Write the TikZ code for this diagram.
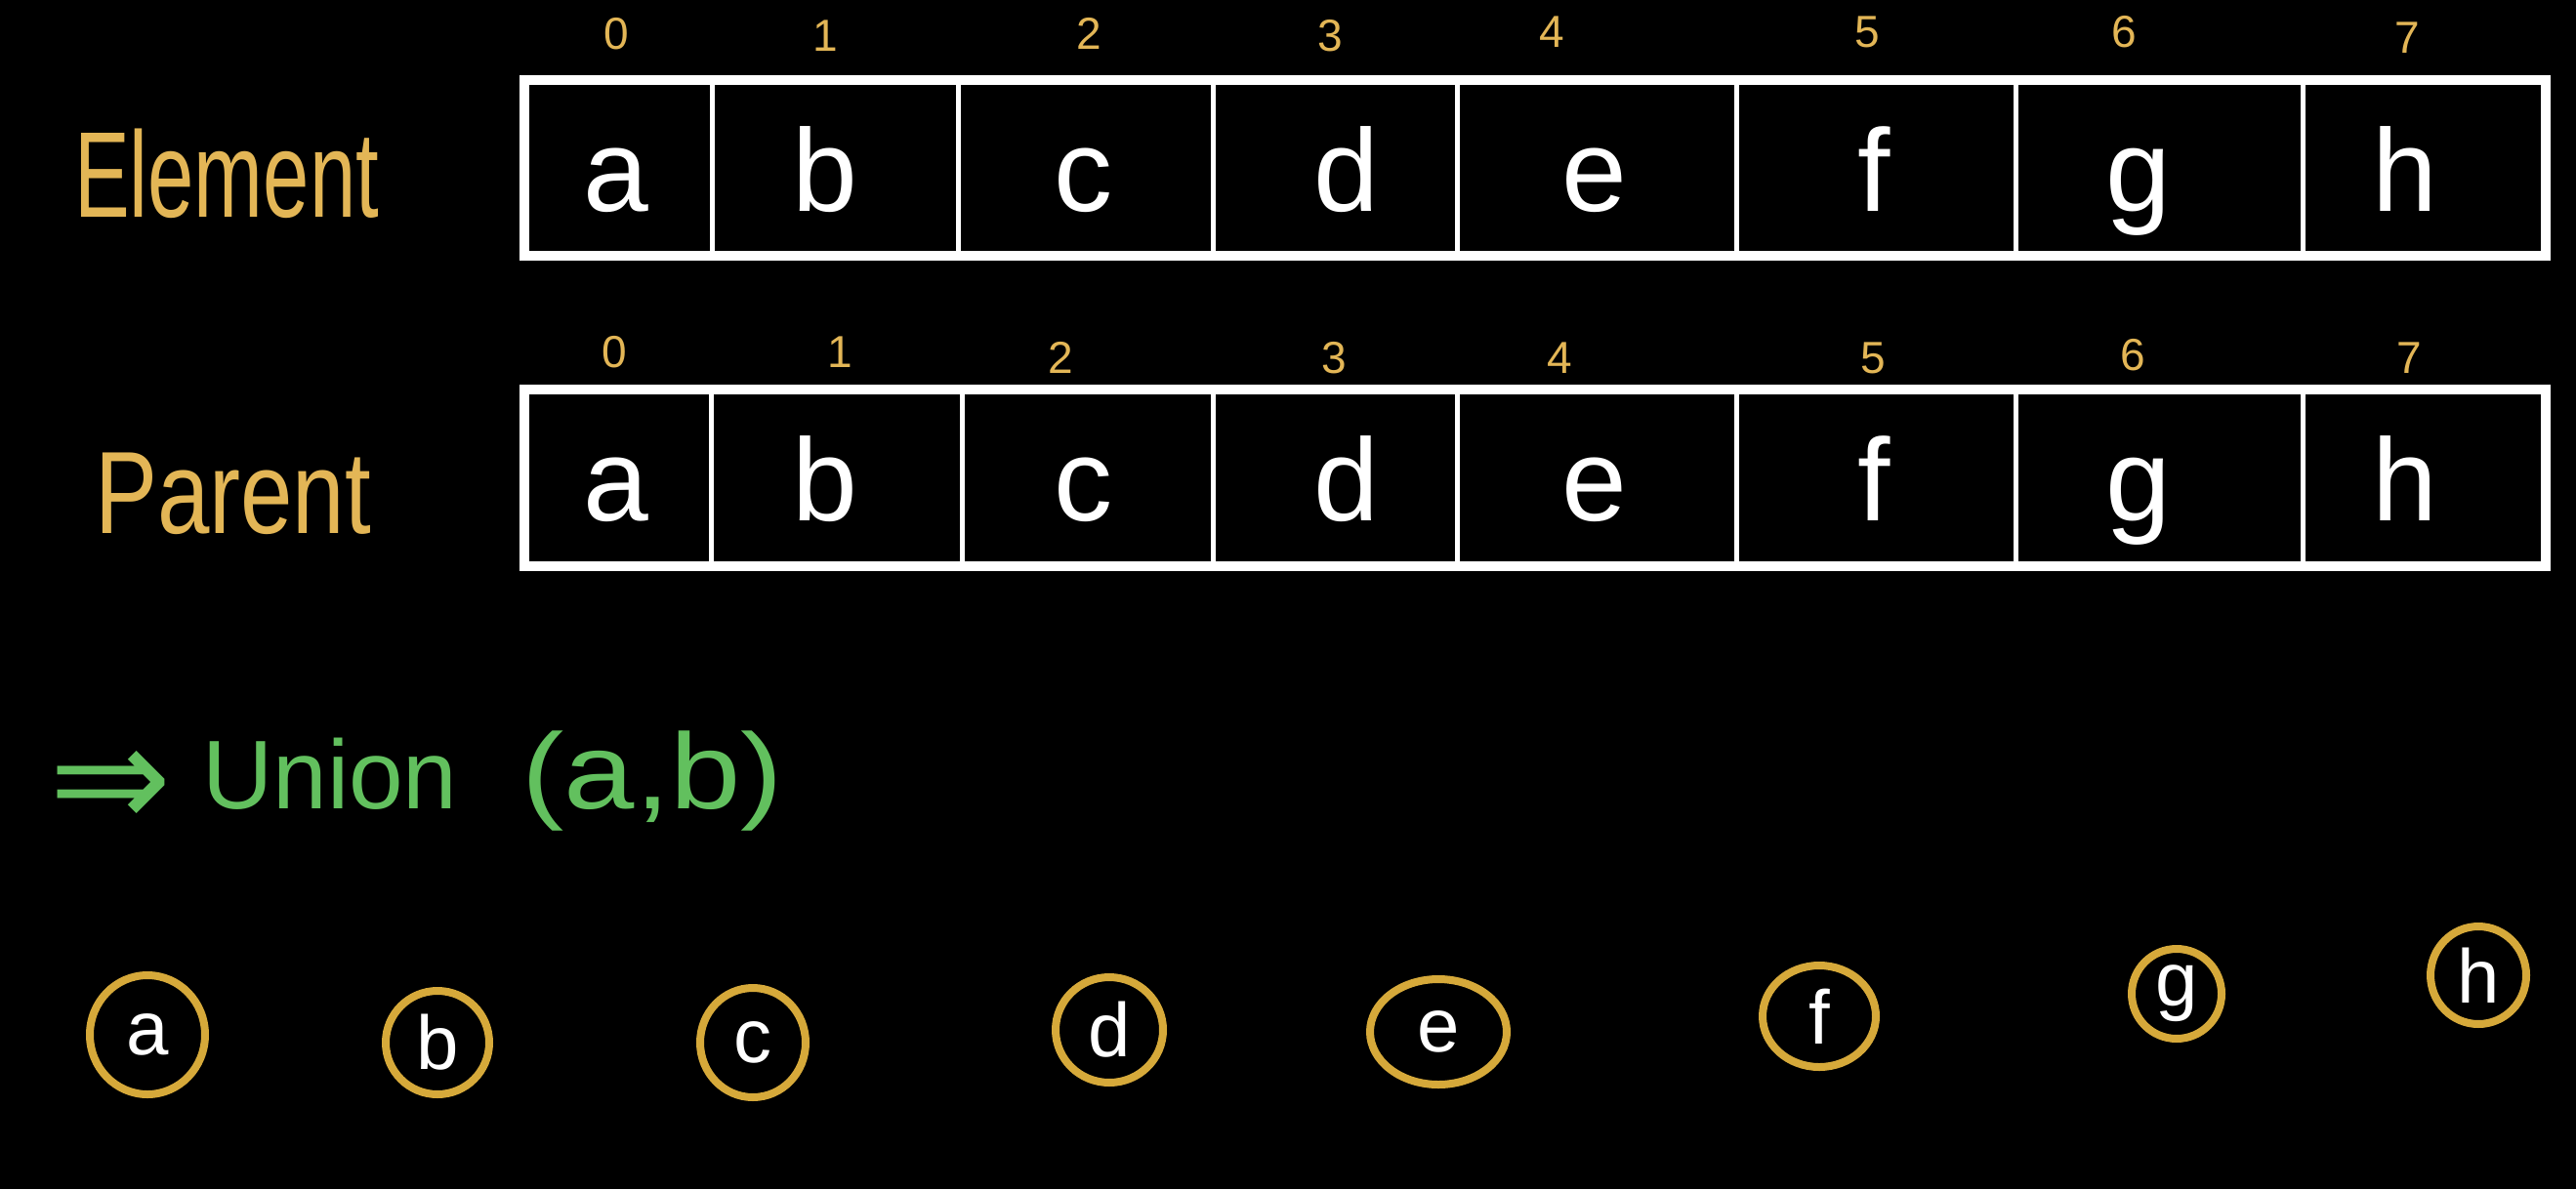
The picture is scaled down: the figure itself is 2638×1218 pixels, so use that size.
\documentclass[tikz,border=0pt]{standalone}
\usepackage{fontspec}
\setmainfont{Liberation Sans}
\newfontfamily\arrowfont{DejaVu Sans}
\usetikzlibrary{shapes.geometric}
\definecolor{labgold}{HTML}{E3B656}
\definecolor{circgold}{HTML}{D6A93A}
\definecolor{ugreen}{HTML}{62C05E}
\begin{document}
\begin{tikzpicture}[x=1pt,y=-1pt,
  cellletter/.style={text=white,font=\fontsize{120}{120}\selectfont,anchor=base,inner sep=0pt},
  idx/.style={text=labgold,font=\fontsize{46}{46}\selectfont,anchor=base,inner sep=0pt},
  frame/.style={draw=white,line width=10pt},
  divider/.style={draw=white,line width=5pt},
  setnode/.style={ellipse,draw=circgold,line width=8pt,inner sep=0pt,text=white,font=\fontsize{78}{78}\selectfont},
  rowlabel/.style={text=labgold,anchor=base west,inner sep=0pt},
  greentext/.style={text=ugreen,anchor=base west,inner sep=0pt}
]
\fill[black] (0,0) rectangle (2638,1218);
\useasboundingbox (0,0) rectangle (2638,1218);

% row labels
\node[rowlabel,font=\fontsize{125}{125}\selectfont,xscale=0.68] (elabel) at (76,222) {Element};
\node[rowlabel,font=\fontsize{120}{120}\selectfont,xscale=0.8] (plabel) at (97,546) {Parent};

% element array frame
\draw[frame] (537,82) rectangle (2607,262);
\foreach \x in {729,981,1242,1492,1778,2064,2358}{
  \draw[divider] (\x,82) -- (\x,262);
}
% parent array frame
\draw[frame] (537,399) rectangle (2607,580);
\foreach \x in {728,985,1242,1492,1778,2064,2358}{
  \draw[divider] (\x,399) -- (\x,580);
}

% element letters
\node[cellletter] (e0) at (631,216) {a};
\node[cellletter] (e1) at (845,216) {b};
\node[cellletter] (e2) at (1109,216) {c};
\node[cellletter] (e3) at (1379,216) {d};
\node[cellletter] (e4) at (1633,216) {e};
\node[cellletter] (e5) at (1919,216) {f};
\node[cellletter] (e6) at (2190,216) {g};
\node[cellletter] (e7) at (2463,216) {h};

% parent letters
\node[cellletter] (p0) at (631,533) {a};
\node[cellletter] (p1) at (845,533) {b};
\node[cellletter] (p2) at (1109,533) {c};
\node[cellletter] (p3) at (1379,533) {d};
\node[cellletter] (p4) at (1633,533) {e};
\node[cellletter] (p5) at (1919,533) {f};
\node[cellletter] (p6) at (2190,533) {g};
\node[cellletter] (p7) at (2463,533) {h};

% element indices
\node[idx] (ei0) at (631,50) {0};
\node[idx] (ei1) at (845,52) {1};
\node[idx] (ei2) at (1115,50) {2};
\node[idx] (ei3) at (1362,52) {3};
\node[idx] (ei4) at (1589,48) {4};
\node[idx] (ei5) at (1912,48) {5};
\node[idx] (ei6) at (2175,48) {6};
\node[idx] (ei7) at (2465,54) {7};

% parent indices
\node[idx] (pi0) at (629,376) {0};
\node[idx] (pi1) at (860,376) {1};
\node[idx] (pi2) at (1086,382) {2};
\node[idx] (pi3) at (1366,382) {3};
\node[idx] (pi4) at (1597,382) {4};
\node[idx] (pi5) at (1918,382) {5};
\node[idx] (pi6) at (2184,379) {6};
\node[idx] (pi7) at (2467,382) {7};

% union operation
\node[greentext,font=\arrowfont\fontsize{150}{150}\selectfont] (arr) at (50,848) {⇒};
\node[greentext,font=\fontsize{100}{100}\selectfont] (union) at (207,828) {Union\hspace{66pt}\scalebox{1.3}[1.1]{(a,b)}};

% singleton sets
\node[setnode,minimum width=118pt,minimum height=122pt] (sa) at (151,1060) {a};
\node[setnode,minimum width=106pt,minimum height=106pt] (sb) at (448,1068) {b};
\node[setnode,minimum width=108pt,minimum height=112pt] (sc) at (771,1068) {c};
\node[setnode,minimum width=110pt,minimum height=108pt] (sd) at (1136,1055) {d};
\node[setnode,minimum width=140pt,minimum height=108pt] (se) at (1473,1057) {e};
\node[setnode,minimum width=116pt,minimum height=104pt] (sf) at (1863,1041) {f};
\node[setnode,minimum width=92pt,minimum height=92pt] (sg) at (2229,1018) {g};
\node[setnode,minimum width=98pt,minimum height=100pt] (sh) at (2538,999) {h};
\end{tikzpicture}
\end{document}
